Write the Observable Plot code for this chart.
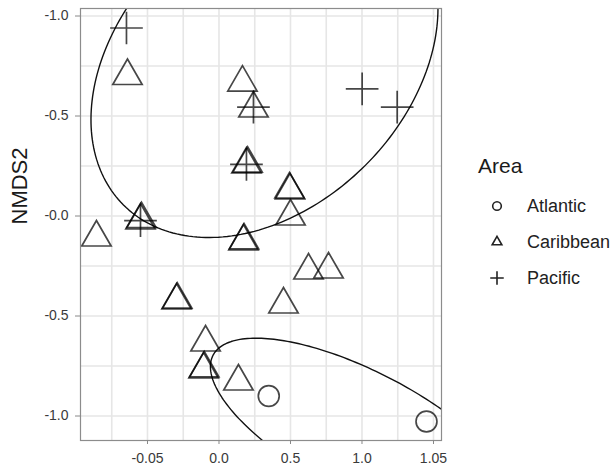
<!DOCTYPE html>
<html>
<head>
<meta charset="utf-8">
<script src="https://cdn.jsdelivr.net/npm/d3@7"></script>
<script src="https://cdn.jsdelivr.net/npm/@observablehq/plot@0.6"></script>
<style>
  html, body { margin: 0; padding: 0; background: #fff; }
  #chart { position: relative; width: 614px; height: 472px; }
</style>
</head>
<body>
<div id="chart"></div>
<script>
// ---- axis ticks (labels as printed in the original) ----
const xTickValues = [-1, -0.5, 0, 0.5, 1];
const xTickLabels = ["-0.05", "0.0", "0.5", "1.0", "1.05"];
const yTickValues = [1, 0.5, 0, -0.5, -1];
const yTickLabels = ["-1.0", "-0.5", "-0.0", "-0.5", "-1.0"];
const xMinorGrid = [-1.25, -0.75, -0.25, 0.25, 0.75];
const yMinorGrid = [0.75, 0.25, -0.25, -0.75];

// ---- groups ----
const areas = ["Atlantic", "Caribbean", "Pacific"];

// ---- site scores (NMDS1, NMDS2) ----
const atlanticX = [-0.152, 0.951];
const atlanticY = [-0.900, -1.0275];

const caribbeanX = [-1.140, -0.336, -0.259, -0.308, -0.300, -0.007, -0.003, 0.000,
  -1.049, -1.042, -1.357, -0.329, -0.325, 0.126, 0.266, -0.797, -0.792, -0.049,
  -0.594, -0.608, -0.603, -0.364];
const caribbeanY = [0.700, 0.667, 0.5375, 0.258, 0.262, 0.1325, 0.128, -0.0025,
  -0.0225, -0.016, -0.1075, -0.1275, -0.122, -0.2725, -0.2675, -0.4225, -0.418, -0.4425,
  -0.6325, -0.7675, -0.762, -0.8275];

const pacificX = [-1.147, -0.259, 0.501, 0.746, -0.308, -1.049];
const pacificY = [0.940, 0.544, 0.636, 0.544, 0.258, -0.023];

// ---- confidence ellipses: centre, major and minor semi-axis vectors ----
const ellipseGroups = ["Pacific", "Atlantic"];
const ellipseCenters = [[-0.182, 0.760], [0.511, -1.0885]];
const ellipseMajor = [[0.9860, 0.7050], [1.0524, -0.3925]];
const ellipseMinor = [[0.707, -0.5056], [-0.1986, -0.272]];

// ---- build tables ----
const points = [];
atlanticX.forEach((x, i) => points.push({area: "Atlantic", x, y: atlanticY[i]}));
caribbeanX.forEach((x, i) => points.push({area: "Caribbean", x, y: caribbeanY[i]}));
pacificX.forEach((x, i) => points.push({area: "Pacific", x, y: pacificY[i]}));

const ellipsePts = [];
ellipseGroups.forEach((g, k) => {
  const [cx, cy] = ellipseCenters[k], [mx, my] = ellipseMajor[k], [nx, ny] = ellipseMinor[k];
  for (let i = 0; i <= 240; i++) {
    const t = (i / 240) * 2 * Math.PI;
    ellipsePts.push({group: g, x: cx + Math.cos(t) * mx + Math.sin(t) * nx, y: cy + Math.cos(t) * my + Math.sin(t) * ny});
  }
});

// ---- symbols (ggplot shapes 1, 2, 3) ----
const sCircle = {draw(ctx, size) { const r = Math.sqrt(size / Math.PI) * 0.96; ctx.moveTo(r, 0); ctx.arc(0, 0, r, 0, 2 * Math.PI); }};
const sTriangle = d3.symbolTriangle;
const sPlus = {draw(ctx, size) { const L = Math.sqrt(size / Math.PI) * 1.5; ctx.moveTo(-L, 0); ctx.lineTo(L, 0); ctx.moveTo(0, -L); ctx.lineTo(0, L); }};
const symbolFor = {Atlantic: sCircle, Caribbean: sTriangle, Pacific: sPlus};

const gridStyle = {stroke: "#e6e6e6", strokeOpacity: 1, strokeWidth: 1.6};
const dotStyle = {x: "x", y: "y", r: 10.9, fill: "none", stroke: "#000", strokeOpacity: 0.72, strokeWidth: 1.7};

const chart = Plot.plot({
  width: 614,
  height: 472,
  marginLeft: 80,
  marginRight: 173,
  marginTop: 8,
  marginBottom: 32,
  style: {fontFamily: "'Liberation Sans', Arial, Helvetica, sans-serif", background: "#fff"},
  x: {domain: [-1.4685, 1.056]},
  y: {domain: [-1.1225, 1.0375]},
  marks: [
    Plot.gridX(xMinorGrid, gridStyle),
    Plot.gridX(xTickValues, gridStyle),
    Plot.gridY(yMinorGrid, gridStyle),
    Plot.gridY(yTickValues, gridStyle),
    Plot.line(ellipsePts, {x: "x", y: "y", z: "group", stroke: "#111", strokeWidth: 1.4, clip: true}),
    ...areas.map(a => Plot.dot(points.filter(d => d.area === a), {...dotStyle, symbol: symbolFor[a], clip: true})),
    Plot.frame({stroke: "#8c8c8c", strokeWidth: 1.2}),
    Plot.axisX(xTickValues, {
      tickFormat: d => xTickLabels[xTickValues.indexOf(d)],
      tickSize: 4, tickPadding: 9, fontSize: 14, stroke: "#888", fill: "#3a3a3a", label: null
    }),
    Plot.axisY(yTickValues, {
      tickFormat: d => yTickLabels[yTickValues.indexOf(d)],
      tickSize: 5, tickPadding: 7, fontSize: 14, stroke: "#888", fill: "#3a3a3a", label: null
    }),
    Plot.text(["NMDS2"], {frameAnchor: "left", dx: -61, rotate: -90, fontSize: 22, fill: "#1a1a1a"})
  ]
});

document.getElementById("chart").appendChild(chart);

// ---- legend (right of the panel) ----
const svg = d3.select(chart);
const lg = svg.append("g")
  .attr("font-family", "'Liberation Sans', Arial, Helvetica, sans-serif")
  .attr("text-anchor", "start");
lg.append("text").attr("x", 478).attr("y", 173).attr("font-size", 21)
  .attr("text-anchor", "start").attr("fill", "#1a1a1a").text("Area");
const rowY = [206, 242, 278];
const legendSymbols = [
  d3.symbol(sCircle, Math.PI * 4.5 * 4.5)(),
  d3.symbol(d3.symbolTriangle, Math.PI * 3.6 * 3.6)(),
  d3.symbol(sPlus, Math.PI * 4.5 * 4.5)()
];
areas.forEach((a, i) => {
  lg.append("path").attr("d", legendSymbols[i]).attr("transform", `translate(497,${rowY[i]})`)
    .attr("fill", "none").attr("stroke", "#222").attr("stroke-width", 1.6);
  lg.append("text").attr("x", 527).attr("y", rowY[i]).attr("dy", "0.35em")
    .attr("text-anchor", "start").attr("font-size", 18).attr("fill", "#222").text(a);
});
</script>
</body>
</html>
